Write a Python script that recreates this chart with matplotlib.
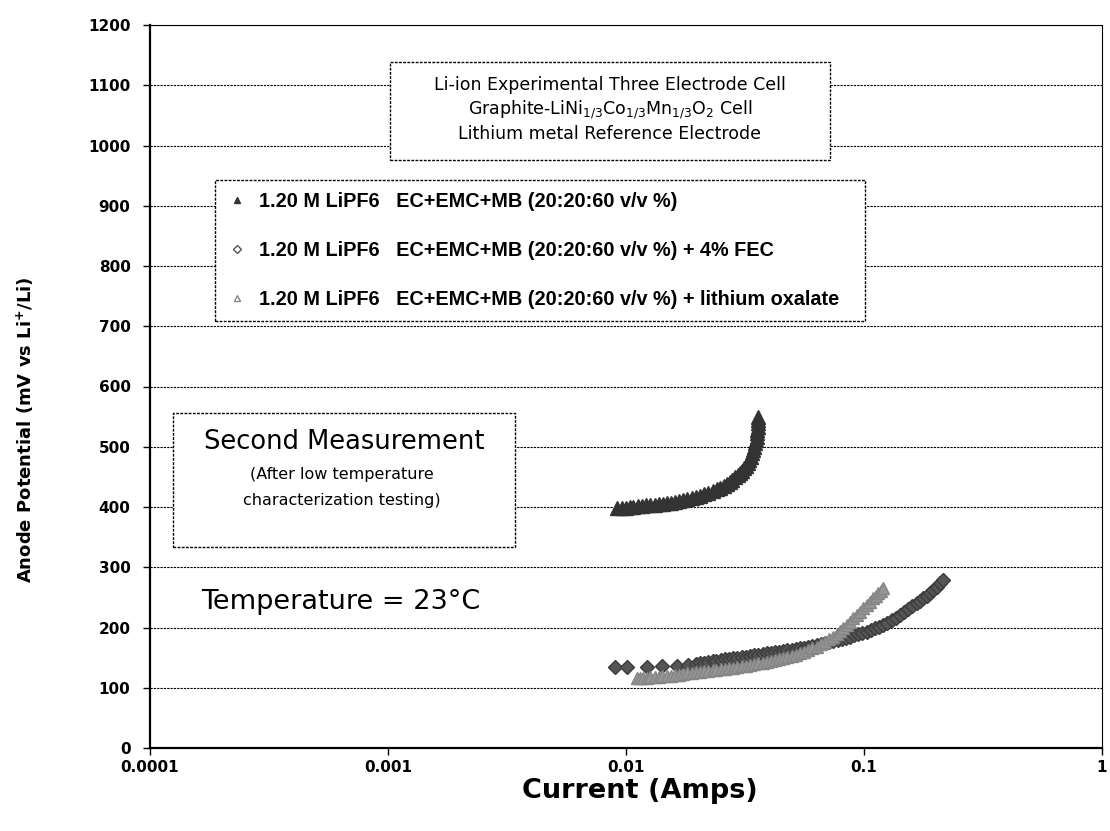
import matplotlib
matplotlib.use("Agg")
import matplotlib.pyplot as plt
from matplotlib.patches import Rectangle
from matplotlib.lines import Line2D

plt.rcParams["font.family"] = ["DejaVu Sans"]
plt.rcParams["mathtext.default"] = "regular"

# baseline electrolyte (upper curve)
base_i = [0.00915, 0.0096, 0.0100, 0.0104, 0.01074, 0.0112, 0.0117, 0.0121, 0.01262, 0.0132,
          0.0137, 0.0143, 0.01482, 0.0154, 0.0161, 0.0167, 0.01741, 0.0181, 0.0189, 0.0196,
          0.02046, 0.0213, 0.0222, 0.0231, 0.02404, 0.0249, 0.0257, 0.0265, 0.02735, 0.0280,
          0.0288, 0.0295, 0.03013, 0.0308, 0.0314, 0.0320, 0.03265, 0.0330, 0.0335, 0.0339,
          0.03428, 0.0346, 0.0349, 0.0352, 0.03540, 0.0355, 0.0356, 0.0357, 0.03575, 0.0359,
          0.03597]
base_v = [397.8, 398.4, 399.0, 399.7, 400.5, 401.2, 402.0, 402.6, 403.3, 403.9,
          404.5, 405.2, 406.0, 407.2, 408.5, 410.0, 411.6, 413.0, 414.5, 416.3,
          418.3, 420.8, 423.5, 426.3, 429.3, 432.3, 435.5, 438.7, 442.0, 445.5,
          449.0, 452.4, 455.9, 459.9, 464.0, 468.2, 472.5, 478.0, 483.5, 489.0,
          494.6, 500.0, 505.5, 511.0, 516.7, 522.3, 528.0, 533.5, 538.9, 544.4,
          549.9]

# + 4% FEC
fec_i = [0.00899, 0.01007, 0.01222, 0.01412, 0.01633, 0.01829,
         0.0196, 0.0205, 0.0213, 0.0222, 0.0231, 0.0240, 0.0250, 0.0261, 0.0271, 0.0282,
         0.0294, 0.0307, 0.0319, 0.0332, 0.0346, 0.0360, 0.0375, 0.0390, 0.0406, 0.0423,
         0.0440, 0.0458, 0.0477, 0.0497, 0.0517, 0.0538, 0.0560, 0.0584, 0.0607, 0.0632,
         0.0658, 0.0686, 0.0714, 0.0743, 0.0774, 0.0806, 0.0839, 0.0873, 0.0909, 0.0947,
         0.0985, 0.1026, 0.1068, 0.1112, 0.1158, 0.1205, 0.1255, 0.1306, 0.1360, 0.1416,
         0.1474, 0.1534, 0.1597, 0.1663, 0.1718, 0.1775, 0.1832, 0.1892, 0.1955, 0.2020,
         0.2087, 0.2155]
fec_v = [135.0, 135.0, 135.0, 135.5, 136.5, 138.0,
         139.3, 140.5, 141.7, 142.8, 143.9, 145.0, 146.0, 147.0, 147.9, 148.8,
         149.8, 150.8, 151.8, 152.7, 153.9, 155.0, 156.1, 157.2, 158.1, 159.0,
         160.0, 161.0, 162.1, 163.2, 164.3, 165.5, 166.8, 168.2, 169.6, 171.0,
         172.7, 174.5, 176.3, 178.1, 179.8, 181.5, 183.1, 184.8, 186.8, 188.8,
         190.9, 193.0, 195.7, 198.5, 201.3, 204.1, 208.0, 212.0, 216.3, 220.7,
         225.3, 230.0, 235.1, 240.2, 244.3, 248.5, 252.6, 256.8, 262.1, 267.5,
         273.1, 278.8]

# + lithium oxalate
oxa_i = [0.01109, 0.0114, 0.0118, 0.0122, 0.01262, 0.0132, 0.0137, 0.0142, 0.01482, 0.0154,
         0.0161, 0.0167, 0.01741, 0.0181, 0.0189, 0.0197, 0.0205, 0.0213, 0.0222, 0.0231,
         0.0240, 0.0250, 0.0261, 0.0271, 0.0282, 0.0294, 0.0307, 0.0319, 0.0332, 0.0346,
         0.0360, 0.0375, 0.0390, 0.0406, 0.0423, 0.0440, 0.0458, 0.0477, 0.0497, 0.0517,
         0.0538, 0.0560, 0.0584, 0.0607, 0.0632, 0.0658, 0.0686, 0.0714, 0.0743, 0.0768,
         0.0793, 0.0819, 0.0845, 0.0873, 0.0902, 0.0931, 0.0962, 0.0993, 0.1026, 0.1060,
         0.1094, 0.1122, 0.1150, 0.1177, 0.1205]
oxa_v = [115.7, 116.1, 116.5, 116.9, 117.3, 117.9, 118.4, 118.9, 119.5, 120.2,
         121.0, 121.9, 122.8, 123.8, 124.8, 125.8, 126.7, 127.3, 128.0, 128.7,
         129.5, 130.4, 131.4, 132.4, 133.3, 134.4, 135.5, 136.6, 137.8, 139.1,
         140.5, 141.9, 143.3, 144.6, 146.0, 147.4, 148.8, 150.9, 153.0, 155.1,
         157.2, 159.8, 162.5, 165.3, 168.1, 172.0, 176.0, 180.4, 184.8, 189.6,
         194.5, 199.3, 204.1, 209.5, 215.0, 220.6, 226.2, 231.8, 237.5, 243.0,
         248.4, 252.4, 256.5, 260.8, 265.1]

labels = [
    "1.20 M LiPF6   EC+EMC+MB (20:20:60 v/v %)",
    "1.20 M LiPF6   EC+EMC+MB (20:20:60 v/v %) + 4% FEC",
    "1.20 M LiPF6   EC+EMC+MB (20:20:60 v/v %) + lithium oxalate",
]
y_ticks = list(range(0, 1201, 100))
x_ticks = [0.0001, 0.001, 0.01, 0.1, 1]
x_ticklabels = ["0.0001", "0.001", "0.01", "0.1", "1"]

W, H = 1110, 831
fig = plt.figure(figsize=(W / 100, H / 100), dpi=100)
ax = fig.add_axes([150 / W, 1 - 748 / H, (1102 - 150) / W, (748 - 25) / H])

ax.plot(base_i, base_v, ls="none", marker="^", ms=10.5, mfc="#333333", mec="#333333", zorder=3)
ax.plot(fec_i, fec_v, ls="none", marker="D", ms=7, mfc="#555555", mec="#3c3c3c", zorder=3)
ax.plot(oxa_i, oxa_v, ls="none", marker="^", ms=9, mfc="#959595", mec="#858585", zorder=4)

ax.set_xscale("log")
ax.set_xlim(0.0001, 1)
ax.set_ylim(0, 1200)
ax.set_xticks(x_ticks)
ax.set_xticklabels(x_ticklabels)
ax.xaxis.set_minor_locator(matplotlib.ticker.NullLocator())
ax.set_yticks(y_ticks)
ax.tick_params(axis="both", direction="out", length=5, width=1, labelsize=11)
ax.tick_params(axis="y", pad=9)
for t in ax.get_xticklabels() + ax.get_yticklabels():
    t.set_fontweight("bold")

ax.yaxis.grid(True, color="black", linestyle=(0, (2, 1)), linewidth=0.8)
ax.set_axisbelow(True)
ax.spines["left"].set_linewidth(1.6)
ax.spines["bottom"].set_linewidth(1.6)
for s in ("top", "right"):
    ax.spines[s].set_linestyle((0, (2, 1)))
    ax.spines[s].set_linewidth(0.8)

ax.set_xlabel("Current (Amps)", fontsize=19.5, fontweight="bold")
ax.xaxis.set_label_coords(0.515, -0.042)
ax.set_ylabel("Anode Potential (mV vs Li$^{+}$/Li)", fontsize=13, fontweight="bold")
ax.yaxis.set_label_coords(-0.12, 0.44)


def fx(px):
    return px / W


def fy(py):
    return 1 - py / H


def box(x0, y0, x1, y1):
    r = Rectangle((fx(x0), fy(y1)), fx(x1) - fx(x0), fy(y0) - fy(y1), transform=fig.transFigure,
                  facecolor="white", edgecolor="black", linestyle=(0, (2, 1)), linewidth=1, zorder=5)
    fig.patches.append(r)


# title box
box(390, 62, 830, 160)
title_lines = [
    "Li-ion Experimental Three Electrode Cell",
    "Graphite-LiNi$_{1/3}$Co$_{1/3}$Mn$_{1/3}$O$_{2}$ Cell",
    "Lithium metal Reference Electrode",
]
for ty, line in zip([85, 110, 134], title_lines):
    fig.text(fx(610), fy(ty), line, ha="center", va="center", fontsize=12.5, zorder=6)

# legend
handles = [
    Line2D([], [], ls="none", marker="^", ms=5, mfc="#333333", mec="#333333"),
    Line2D([], [], ls="none", marker="D", ms=4, mfc="white", mec="#555555"),
    Line2D([], [], ls="none", marker="^", ms=5, mfc="white", mec="#858585"),
]
leg = ax.legend(handles, labels, loc="upper left",
                bbox_to_anchor=(fx(215), fy(180) - 0.01, fx(865) - fx(215), 0.01),
                bbox_transform=fig.transFigure, mode="expand", borderaxespad=0,
                prop={"family": "Liberation Sans", "weight": "bold", "size": 14.3},
                frameon=True, fancybox=False, framealpha=1,
                borderpad=0.62, labelspacing=1.5, handlelength=1.0, handletextpad=0.6)
leg.get_frame().set_edgecolor("black")
leg.get_frame().set_linestyle((0, (2, 1)))
leg.get_frame().set_linewidth(1)
leg.set_zorder(6)

# second measurement box
box(173, 413, 515, 547)
fig.text(fx(344), fy(442), "Second Measurement", ha="center", va="center", fontsize=18.5, zorder=6)
fig.text(fx(342), fy(475), "(After low temperature", ha="center", va="center", fontsize=11.5, zorder=6)
fig.text(fx(342), fy(500), "characterization testing)", ha="center", va="center", fontsize=11.5, zorder=6)

fig.text(fx(341), fy(602), "Temperature = 23\u00b0C", ha="center", va="center", fontsize=19.5, zorder=6)

fig.savefig("out.png", dpi=100)
